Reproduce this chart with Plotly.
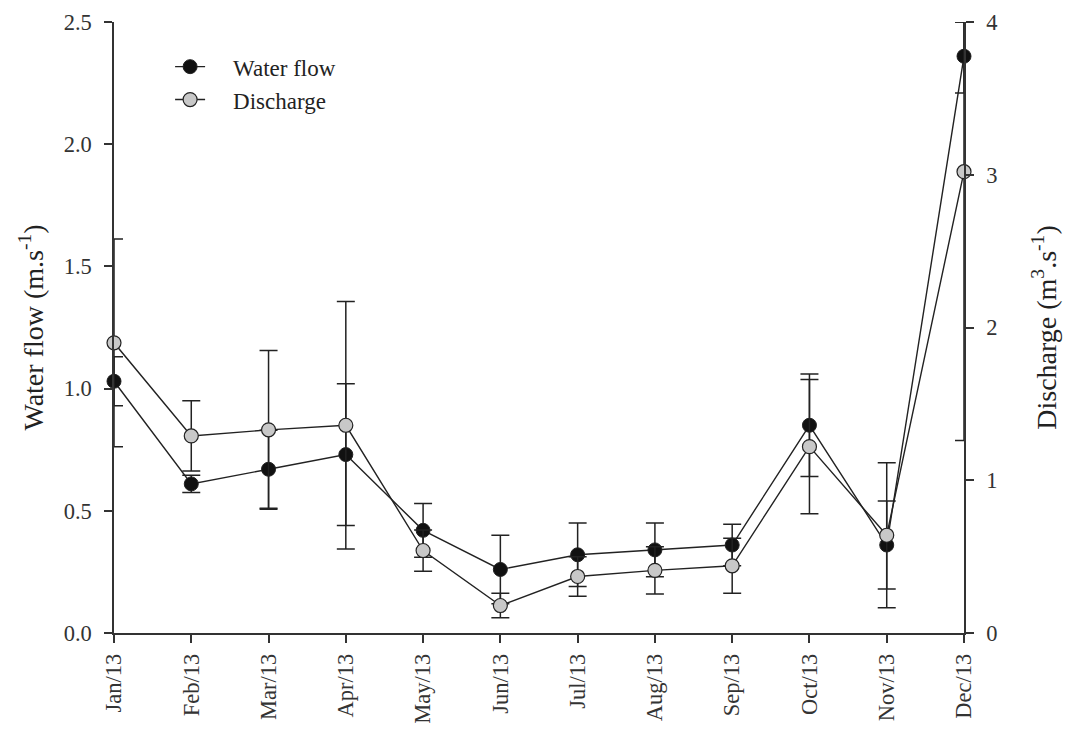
import plotly.graph_objects as go

# Monthly means and standard errors, 2013
months = ["Jan/13", "Feb/13", "Mar/13", "Apr/13", "May/13", "Jun/13",
          "Jul/13", "Aug/13", "Sep/13", "Oct/13", "Nov/13", "Dec/13"]
water_flow = [1.03, 0.61, 0.67, 0.73, 0.42, 0.26, 0.32, 0.34, 0.36, 0.85, 0.36, 2.36]
water_flow_se = [0.10, 0.035, 0.16, 0.29, 0.11, 0.14, 0.13, 0.11, 0.085, 0.21, 0.18, 0.15]
discharge = [1.90, 1.29, 1.33, 1.36, 0.54, 0.18, 0.37, 0.41, 0.44, 1.22, 0.64, 3.02]
discharge_se = [0.68, 0.23, 0.52, 0.81, 0.135, 0.08, 0.13, 0.155, 0.18, 0.44, 0.475, 1.76]

left_ticks = [0.0, 0.5, 1.0, 1.5, 2.0, 2.5]
right_ticks = [0, 1, 2, 3, 4]
LEFT_MAX = 2.5
RIGHT_MAX = 4.0

FONT = "Liberation Serif"
INK = "#222222"
AXIS = "#333333"
PAD = "\u00a0" * 4  # gap between legend symbol and label


def clipped_upper(vals, errs, top):
    # keep upper whiskers inside the axis range
    return [min(e, top - v) for v, e in zip(vals, errs)]


fig = go.Figure()

fig.add_trace(go.Scatter(
    x=months, y=water_flow, name=PAD + "Water flow", mode="lines+markers",
    line=dict(color=INK, width=1.4),
    marker=dict(size=14, color="#111111", line=dict(color=INK, width=1)),
    error_y=dict(type="data", symmetric=False,
                 array=clipped_upper(water_flow, water_flow_se, LEFT_MAX),
                 arrayminus=water_flow_se,
                 color=INK, thickness=1.5, width=9),
    cliponaxis=False,
))

fig.add_trace(go.Scatter(
    x=months, y=discharge, name=PAD + "Discharge", mode="lines+markers", yaxis="y2",
    line=dict(color=INK, width=1.4),
    marker=dict(size=14, color="#c8c8c8", line=dict(color=INK, width=1.2)),
    error_y=dict(type="data", symmetric=False,
                 array=clipped_upper(discharge, discharge_se, RIGHT_MAX),
                 arrayminus=discharge_se,
                 color=INK, thickness=1.5, width=9),
    cliponaxis=False,
))

tick_font = dict(family=FONT, size=22.5, color="#333333")
title_font = dict(family=FONT, size=28, color="#222222")

fig.update_layout(
    width=1067, height=729,
    margin=dict(l=114, r=103, t=22, b=95.5),
    plot_bgcolor="white", paper_bgcolor="white",
    showlegend=True,
    legend=dict(
        x=0.066, y=0.962, xanchor="left", yanchor="top",
        font=dict(family=FONT, size=23, color="#222222"),
        bgcolor="rgba(0,0,0,0)", tracegroupgap=0,
    ),
    xaxis=dict(
        type="category", range=[0, 11], automargin=False,
        showline=True, linecolor=AXIS, linewidth=1.5, mirror=False,
        ticks="outside", ticklen=8, tickwidth=1.5, tickcolor=AXIS,
        tickangle=-90, tickfont=tick_font, ticklabelstandoff=2,
        showgrid=False, zeroline=False,
    ),
    yaxis=dict(
        range=[0, LEFT_MAX], tickvals=left_ticks, tickformat=".1f", automargin=False,
        showline=True, linecolor=AXIS, linewidth=1.5,
        ticks="outside", ticklen=8, tickwidth=1.5, tickcolor=AXIS,
        tickfont=tick_font, ticklabelstandoff=8,
        showgrid=False, zeroline=False,
        title=dict(text="Water flow (m.s<sup>-1</sup>)", font=title_font, standoff=12),
    ),
    yaxis2=dict(
        range=[0, RIGHT_MAX], tickvals=right_ticks, overlaying="y", side="right",
        automargin=False,
        showline=True, linecolor=AXIS, linewidth=1.5,
        ticks="outside", ticklen=8, tickwidth=1.5, tickcolor=AXIS,
        tickfont=tick_font, ticklabelstandoff=8,
        showgrid=False, zeroline=False,
        title=dict(text="Discharge (m<sup>3</sup>.s<sup>-1</sup>)", font=title_font, standoff=40),
    ),
)

fig.write_html("out.html")
